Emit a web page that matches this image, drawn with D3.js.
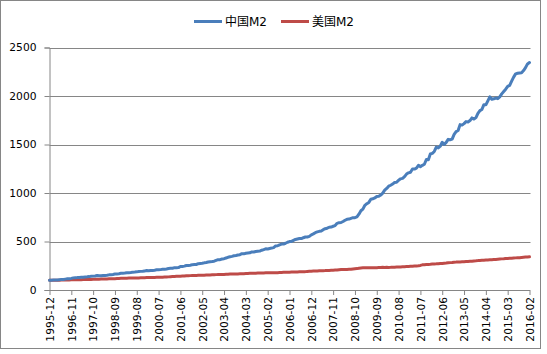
<!DOCTYPE html>
<html><head><meta charset="utf-8">
<script src="https://cdn.jsdelivr.net/npm/d3@7"></script>
<style>body{margin:0;background:#fff}svg{display:block}</style>
</head><body>
<svg id="c" width="547" height="354"></svg>
<script>
// ---- data (indexed, 1995-12 = 100) ----
const startMonth = "1995-12", endMonth = "2016-02";
const seriesNames = ["中国M2", "美国M2"];
const chinaM2 = [100,
100,102,103,104,106,108,109,112,115,116,120,125,
127,128,130,131,132,135,136,138,141,143,145,150,
146,148,150,150,152,156,157,160,164,166,168,172,
173,175,178,178,180,184,185,187,190,192,194,197,
200,199,202,202,204,208,208,210,213,213,217,222,
224,223,230,230,231,243,243,246,253,252,255,261,
262,263,271,273,275,280,283,288,291,293,297,305,
313,313,320,323,330,337,342,347,353,356,361,364,
374,373,379,381,383,392,392,397,400,401,410,417,
425,423,428,432,437,454,456,466,473,474,482,492,
499,501,511,521,526,531,530,539,546,547,553,569,
579,591,599,605,609,622,632,637,647,649,657,664,
687,694,696,706,719,729,731,739,746,746,754,782,
817,834,873,890,903,936,940,949,964,966,979,998,
1029,1047,1070,1080,1092,1109,1110,1132,1146,1151,1169,1195,
1208,1214,1248,1247,1257,1285,1272,1285,1296,1345,1343,1402,
1408,1428,1474,1464,1482,1523,1501,1522,1553,1549,1555,1604,
1633,1644,1705,1700,1715,1736,1732,1747,1774,1762,1777,1821,
1849,1861,1911,1909,1950,1991,1966,1971,1979,1973,1991,2022,
2046,2070,2099,2109,2153,2195,2228,2234,2238,2240,2262,2292,
2331,2345];
const usM2 = [100,
100.3,100.6,101.1,101.4,101.7,102.1,102.5,102.9,103.3,103.8,104.4,105.0,
105.4,105.8,106.2,106.7,107.0,107.4,107.9,108.5,109.0,109.6,110.2,110.8,
111.6,112.4,113.2,113.9,114.6,115.2,115.8,116.4,117.2,118.3,119.4,120.3,
120.9,121.5,121.9,122.5,123.0,123.5,124.0,124.5,124.9,125.5,126.4,127.4,
127.8,128.1,128.6,129.6,129.8,130.3,130.9,131.8,132.6,133.2,134.0,135.3,
136.8,138.0,139.5,141.4,141.6,142.9,143.8,144.5,147.5,147.0,148.2,149.2,
149.5,150.4,150.9,150.8,151.6,152.4,153.8,155.0,155.6,156.8,157.7,158.5,
159.0,159.6,159.9,160.7,162.2,163.3,164.9,166.1,166.1,165.9,166.1,166.6,
167.4,168.4,169.4,170.5,172.0,172.6,172.8,173.6,174.5,175.0,175.8,176.3,
176.6,177.0,177.3,177.4,178.0,178.8,179.1,179.9,180.9,181.8,182.6,183.5,
184.2,184.8,185.3,185.7,186.0,186.9,187.5,188.5,189.4,190.8,192.3,194.2,
195.1,195.6,196.6,198.3,199.1,199.5,199.8,201.2,202.2,203.1,204.0,205.2,
206.5,209.3,211.0,211.9,212.3,212.6,213.8,213.6,216.6,219.0,220.6,225.0,
227.5,228.8,229.8,229.3,230.6,230.4,229.8,229.2,229.8,230.8,232.0,233.4,
233.0,233.6,233.2,234.0,235.5,235.6,236.2,237.2,238.2,239.5,240.5,241.7,
243.2,244.4,245.5,246.3,247.5,249.5,253.5,259.3,261.0,262.5,263.7,265.3,
267.4,268.9,269.5,271.1,272.6,274.3,275.8,277.2,279.8,282.2,283.9,287.1,
287.5,288.6,289.5,290.5,291.7,293.1,294.4,295.4,296.8,298.9,300.6,302.9,
304.5,306.4,307.8,309.7,310.5,311.4,312.6,314.2,315.4,317.0,318.8,320.9,
322.2,324.3,325.4,326.8,328.1,329.6,331.2,332.3,333.6,335.2,337.2,339.0,
340.6,342.2];
const tickLabels = ["1995-12","1996-11","1997-10","1998-09","1999-08","2000-07","2001-06","2002-05","2003-04","2004-03","2005-02","2006-01","2006-12","2007-11","2008-10","2009-09","2010-08","2011-07","2012-06","2013-05","2014-04","2015-03","2016-02"];
const yTicks = [0,500,1000,1500,2000,2500];

// categories: every month from startMonth to endMonth
const fmt = d3.timeFormat("%Y-%m"), parse = d3.timeParse("%Y-%m");
const categories = d3.timeMonth.range(parse(startMonth), d3.timeMonth.offset(parse(endMonth),1)).map(fmt);

const colors = ["#4a7ebb","#be4b48"];
const svg = d3.select("#c");
const L = 49.5, R = 529.5, T = 47.5, B = 290;
const x = d3.scalePoint().domain(categories).range([L, R]);
const y = d3.scaleLinear().domain([0,2500]).range([B, T]);
const axisColor = "#868686";
const font = "'DejaVu Sans', Verdana, sans-serif";

// outer border
svg.append("rect").attr("x",0.5).attr("y",0.5).attr("width",540).attr("height",348)
  .attr("fill","#fff").attr("stroke",axisColor).attr("stroke-width",1);

// gridlines
svg.append("g").selectAll("line").data(yTicks.filter(d=>d>0)).join("line")
  .attr("x1",L).attr("x2",R+1).attr("y1",d=>Math.round(y(d))+0.5).attr("y2",d=>Math.round(y(d))+0.5)
  .attr("stroke",axisColor).attr("stroke-width",1);

// y axis
const gy = svg.append("g").attr("transform",`translate(${L},0)`)
  .call(d3.axisLeft(y).tickValues(yTicks).tickFormat(d3.format("d")).tickSize(5).tickPadding(8));
gy.selectAll("path,line").attr("stroke",axisColor);
gy.selectAll("text").attr("font-family",font).attr("font-size","10.7px").attr("fill","#000");

// x axis
const tickCats = categories.filter(c => tickLabels.includes(c));
const gx = svg.append("g").attr("transform",`translate(0,${B})`)
  .call(d3.axisBottom(x).tickValues(tickCats).tickSize(5).tickSizeOuter(0));
gx.selectAll("path,line").attr("stroke",axisColor);
gx.selectAll("text").attr("font-family",font).attr("font-size","10.7px").attr("fill","#000")
  .attr("transform","rotate(-90)").attr("text-anchor","end")
  .attr("x",-7).attr("y",0).attr("dy","0.36em");

// lines
const series = [chinaM2, usM2];
const line = d3.line().x((d,i)=>x(categories[i])).y(d=>y(d));
[1,0].forEach(k=>{
  svg.append("path").datum(series[k]).attr("d",line)
    .attr("fill","none").attr("stroke",colors[k]).attr("stroke-width",3)
    .attr("stroke-linejoin","round").attr("stroke-linecap","round");
});

// legend
const leg = [{x:194, tx:225},{x:281, tx:312}];
seriesNames.forEach((n,k)=>{
  svg.append("line").attr("x1",leg[k].x).attr("x2",leg[k].x+28).attr("y1",21.5).attr("y2",21.5)
    .attr("stroke",colors[k]).attr("stroke-width",3);
  const t = svg.append("text").attr("x",leg[k].tx).attr("y",26).attr("font-size","12px").attr("fill","#000");
  t.append("tspan").attr("font-family","'Noto Sans CJK SC', sans-serif").text(n.slice(0,2));
  t.append("tspan").attr("font-family",font).text(n.slice(2));
});
</script>
</body></html>
